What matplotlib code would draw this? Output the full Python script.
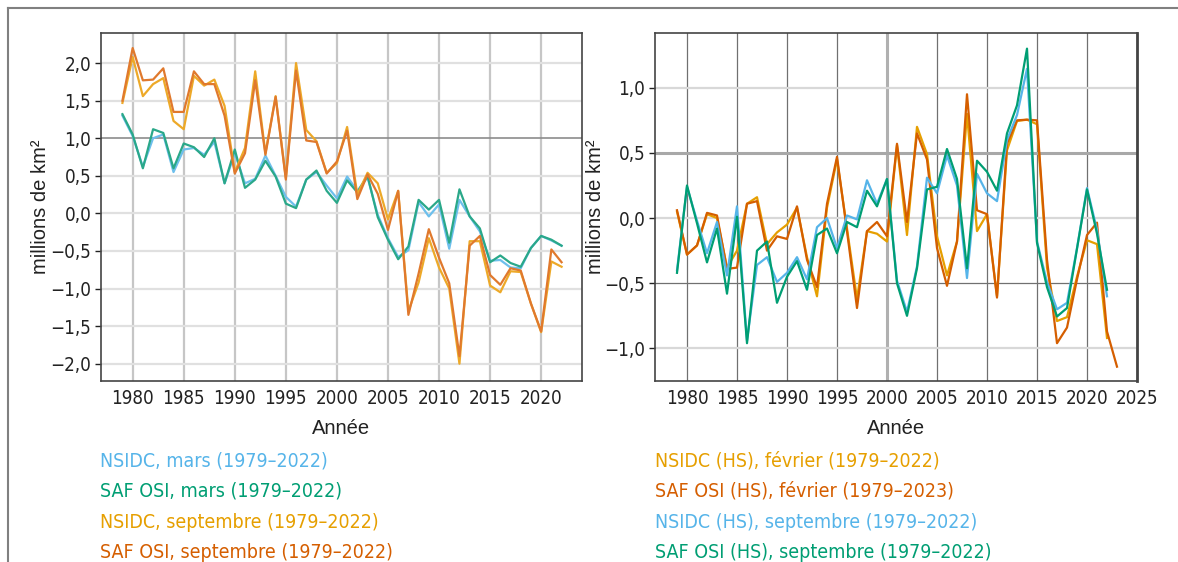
import matplotlib
matplotlib.use("Agg")
import matplotlib.pyplot as plt
from matplotlib import font_manager
from matplotlib.lines import Line2D

# ---------------- data ----------------
years_n = list(range(1979, 2023))
years_s_feb_osi = list(range(1979, 2024))

# Arctic (left)
nsidc_mars = [1.30, 1.03, 0.62, 1.00, 1.05, 0.55, 0.85, 0.87, 0.78, 0.95,
              0.40, 0.80, 0.40, 0.46, 0.77, 0.50, 0.22, 0.09, 0.45, 0.55,
              0.37, 0.20, 0.49, 0.30, 0.48, -0.02, -0.33, -0.58, -0.49, 0.15,
              -0.04, 0.12, -0.47, 0.18, -0.04, -0.24, -0.63, -0.62, -0.72, -0.73,
              -0.46, -0.30, -0.36, -0.43]
osi_mars = [1.32, 1.05, 0.60, 1.12, 1.07, 0.60, 0.93, 0.88, 0.75, 1.00,
            0.40, 0.85, 0.34, 0.45, 0.70, 0.49, 0.13, 0.07, 0.45, 0.57,
            0.30, 0.14, 0.44, 0.28, 0.50, -0.05, -0.35, -0.61, -0.44, 0.18,
            0.05, 0.18, -0.39, 0.32, -0.04, -0.20, -0.65, -0.56, -0.66, -0.71,
            -0.46, -0.30, -0.35, -0.43]
nsidc_sept = [1.47, 2.08, 1.56, 1.72, 1.80, 1.23, 1.12, 1.83, 1.70, 1.78,
              1.43, 0.55, 0.87, 1.89, 0.80, 1.56, 0.47, 2.00, 1.11, 0.96,
              0.54, 0.67, 1.15, 0.25, 0.54, 0.40, -0.08, 0.30, -1.30, -0.92,
              -0.33, -0.72, -1.00, -2.00, -0.37, -0.37, -0.96, -1.05, -0.77, -0.78,
              -1.20, -1.58, -0.64, -0.71]
osi_sept = [1.50, 2.20, 1.77, 1.78, 1.93, 1.35, 1.35, 1.89, 1.72, 1.72,
            1.30, 0.53, 0.80, 1.77, 0.78, 1.55, 0.45, 1.90, 0.97, 0.95,
            0.53, 0.69, 1.10, 0.19, 0.52, 0.26, -0.22, 0.30, -1.35, -0.80,
            -0.21, -0.59, -0.93, -1.90, -0.43, -0.30, -0.82, -0.95, -0.73, -0.76,
            -1.20, -1.57, -0.48, -0.65]

# Antarctic (right)
nsidc_hs_fev = [0.05, -0.28, -0.21, 0.03, 0.00, -0.38, -0.25, 0.11, 0.16, -0.20,
                -0.11, -0.05, 0.08, -0.30, -0.60, 0.08, 0.45, -0.08, -0.62, -0.10,
                -0.12, -0.18, 0.56, -0.13, 0.70, 0.49, -0.14, -0.44, -0.18, 0.80,
                -0.10, 0.03, -0.60, 0.52, 0.745, 0.755, 0.72, -0.38, -0.79, -0.76,
                -0.45, -0.17, -0.20, -0.92]
osi_hs_fev = [0.06, -0.28, -0.21, 0.04, 0.02, -0.39, -0.38, 0.11, 0.13, -0.25,
              -0.14, -0.16, 0.09, -0.32, -0.53, 0.11, 0.47, -0.10, -0.69, -0.10,
              -0.03, -0.14, 0.57, -0.03, 0.65, 0.45, -0.23, -0.52, -0.18, 0.95,
              0.06, 0.03, -0.61, 0.57, 0.75, 0.755, 0.75, -0.32, -0.96, -0.84,
              -0.47, -0.13, -0.035, -0.87, -1.14]
nsidc_hs_sept = [-0.40, 0.24, -0.02, -0.27, -0.03, -0.44, 0.09, -0.94, -0.36, -0.30,
                 -0.49, -0.42, -0.30, -0.47, -0.07, 0.00, -0.23, 0.02, -0.01, 0.29,
                 0.11, 0.30, -0.48, -0.72, -0.37, 0.31, 0.19, 0.48, 0.25, -0.46,
                 0.34, 0.19, 0.13, 0.60, 0.79, 1.145, -0.18, -0.49, -0.70, -0.65,
                 -0.23, 0.23, -0.09, -0.60]
osi_hs_sept = [-0.42, 0.25, -0.04, -0.34, -0.08, -0.58, 0.01, -0.96, -0.25, -0.18,
               -0.65, -0.45, -0.33, -0.55, -0.13, -0.08, -0.27, -0.03, -0.07, 0.21,
               0.09, 0.30, -0.50, -0.75, -0.385, 0.22, 0.24, 0.53, 0.30, -0.385,
               0.44, 0.355, 0.21, 0.65, 0.865, 1.30, -0.19, -0.53, -0.755, -0.69,
               -0.235, 0.22, -0.12, -0.55]

legend_left = ["NSIDC, mars (1979–2022)", "SAF OSI, mars (1979–2022)",
               "NSIDC, septembre (1979–2022)", "SAF OSI, septembre (1979–2022)"]
legend_right = ["NSIDC (HS), février (1979–2022)", "SAF OSI (HS), février (1979–2023)",
                "NSIDC (HS), septembre (1979–2022)", "SAF OSI (HS), septembre (1979–2022)"]

xticks_left = [1980, 1985, 1990, 1995, 2000, 2005, 2010, 2015, 2020]
xticks_right = [1980, 1985, 1990, 1995, 2000, 2005, 2010, 2015, 2020, 2025]
yticks_left = [-2.0, -1.5, -1.0, -0.5, 0.0, 0.5, 1.0, 1.5, 2.0]
yticks_right = [-1.0, -0.5, 0.0, 0.5, 1.0]

# ---------------- style ----------------
BLUE, GREEN, ORANGE, VERM = "#56B4E9", "#009E73", "#E69F00", "#D55E00"
BLUE_L, GREEN_L, ORANGE_L, VERM_L = "#6DBFEC", "#2AA889", "#EDA928", "#E0792D"

names = {f.name for f in font_manager.fontManager.ttflist}
if "Liberation Sans Narrow" in names:
    NARROW_KW = {"fontfamily": "Liberation Sans Narrow"}
else:
    NARROW_KW = {"fontfamily": "DejaVu Sans", "fontstretch": "condensed"}
SANS = "Liberation Sans" if "Liberation Sans" in names else "DejaVu Sans"

W, H = 1178, 562
fig = plt.figure(figsize=(W / 100, H / 100), dpi=100)


def fx(px):
    return px / W


def fy(py):
    return 1 - py / H


def fmt(v):
    s = f"{abs(v):.1f}".replace(".", ",")
    return ("−" + s) if v < -1e-9 else s


ax1 = fig.add_axes([fx(101), fy(381), fx(582) - fx(101), fy(33) - fy(381)])
ax2 = fig.add_axes([fx(655), fy(381), fx(1137) - fx(655), fy(33) - fy(381)])

lw = 1.6
ax1.plot(years_n, nsidc_mars, color=BLUE_L, lw=lw, zorder=3)
ax1.plot(years_n, osi_mars, color=GREEN_L, lw=lw, zorder=4)
ax1.plot(years_n, nsidc_sept, color=ORANGE_L, lw=lw, zorder=5)
ax1.plot(years_n, osi_sept, color=VERM_L, lw=lw, zorder=6)

ax2.plot(years_n, nsidc_hs_fev, color=ORANGE, lw=lw, zorder=3)
ax2.plot(years_s_feb_osi, osi_hs_fev, color=VERM, lw=lw, zorder=4)
ax2.plot(years_n, nsidc_hs_sept, color=BLUE, lw=lw, zorder=5)
ax2.plot(years_n, osi_hs_sept, color=GREEN, lw=lw, zorder=6)

ax1.set_xlim(1976.9, 2024.0)
ax1.set_ylim(-2.23, 2.40)
ax2.set_xlim(1976.8, 2025.0)
ax2.set_ylim(-1.25, 1.42)

for ax, xt, yt in ((ax1, xticks_left, yticks_left), (ax2, xticks_right, yticks_right)):
    ax.set_xticks(xt)
    ax.set_xticklabels([str(t) for t in xt], fontsize=13.5, **NARROW_KW)
    ax.set_yticks(yt)
    ax.set_yticklabels([fmt(t) for t in yt], fontsize=13.5, **NARROW_KW)
    ax.tick_params(axis="x", length=0, pad=6, colors="#222222")
    ax.tick_params(axis="y", length=4, width=1, direction="out", pad=3, colors="#222222")
    for sp in ax.spines.values():
        sp.set_color("#444444")
        sp.set_linewidth(1.2)
    ax.grid(True, zorder=0)
    ax.set_axisbelow(True)
    ax.set_xlabel("Année", fontfamily=SANS, fontsize=14.5, color="#222222", labelpad=8)
    ax.set_ylabel("millions de km²", fontfamily=SANS, fontsize=14.5, color="#222222")

ax1.yaxis.set_label_coords(-0.106, 0.5)
ax2.yaxis.set_label_coords(-0.104, 0.5)
ax2.spines["right"].set_linewidth(2.0)

# left grid styling
for t, gl in zip(ax1.get_xticks(), ax1.get_xgridlines()):
    gl.set_color("#c6c6c6"); gl.set_linewidth(1.6)
for t, gl in zip(ax1.get_yticks(), ax1.get_ygridlines()):
    if abs(t - 1.0) < 1e-6:
        gl.set_color("#8c8c8c"); gl.set_linewidth(1.2)
    else:
        gl.set_color("#e0e0e0"); gl.set_linewidth(1.6)

# right grid styling
for t, gl in zip(ax2.get_xticks(), ax2.get_xgridlines()):
    if t == 2000:
        gl.set_color("#b0b0b0"); gl.set_linewidth(2.2)
    else:
        gl.set_color("#707070"); gl.set_linewidth(0.9)
for t, gl in zip(ax2.get_yticks(), ax2.get_ygridlines()):
    if abs(t - 0.5) < 1e-6:
        gl.set_color("#a8a8a8"); gl.set_linewidth(2.2)
    elif abs(t + 0.5) < 1e-6:
        gl.set_color("#707070"); gl.set_linewidth(0.9)
    else:
        gl.set_color("#d8d8d8"); gl.set_linewidth(1.6)

# legend texts
rows = [461, 491, 522, 553]
cols_left = [BLUE, GREEN, ORANGE, VERM]
cols_right = [ORANGE, VERM, BLUE, GREEN]
for y, txt, c in zip(rows, legend_left, cols_left):
    fig.text(fx(100), fy(y), txt, color=c, fontsize=14, va="center", ha="left", **NARROW_KW)
for y, txt, c in zip(rows, legend_right, cols_right):
    fig.text(fx(655), fy(y), txt, color=c, fontsize=14, va="center", ha="left", **NARROW_KW)

# figure border (top and left)
fig.add_artist(Line2D([fx(8), 1.0], [fy(8), fy(8)], color="#808080", lw=1.5))
fig.add_artist(Line2D([fx(8), fx(8)], [0.0, fy(8)], color="#808080", lw=1.5))

fig.savefig("out.png", dpi=100)
